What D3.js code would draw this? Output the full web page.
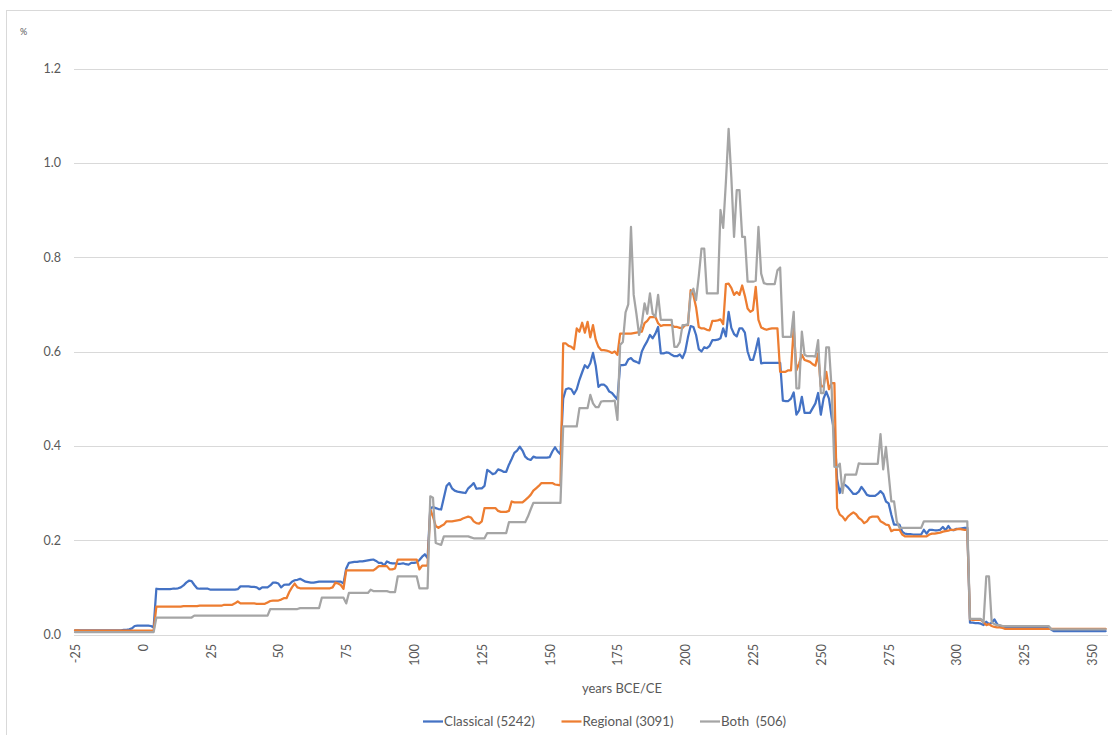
<!DOCTYPE html>
<html>
<head>
<meta charset="utf-8">
<script src="https://cdn.jsdelivr.net/npm/d3@7/dist/d3.min.js"></script>
<style>
  html, body { margin: 0; padding: 0; background: #ffffff; }
  svg { display: block; }
  text { font-family: Lato, "Open Sans", "Liberation Sans", sans-serif; fill: #595959; }
</style>
</head>
<body>
<svg id="chart" width="1112" height="735"></svg>
<script>
// Yearly share (%) of dated objects, years -25 .. 355
const years = d3.range(-25, 356);

const classical = [
  0.009,0.009,0.009,0.009,0.009,0.009,0.009,0.009,0.009,0.009,
  0.009,0.009,0.009,0.009,0.009,0.009,0.009,0.009,0.010,0.010,
  0.011,0.013,0.018,0.019,0.019,0.019,0.019,0.019,0.018,0.015,
  0.097,0.096,0.096,0.096,0.096,0.096,0.097,0.097,0.098,0.100,
  0.104,0.110,0.114,0.113,0.105,0.098,0.097,0.097,0.097,0.097,
  0.095,0.095,0.095,0.095,0.095,0.095,0.095,0.095,0.095,0.095,
  0.096,0.102,0.102,0.102,0.102,0.101,0.101,0.100,0.096,0.100,
  0.100,0.100,0.104,0.110,0.110,0.108,0.100,0.105,0.106,0.106,
  0.112,0.115,0.116,0.118,0.115,0.112,0.111,0.110,0.110,0.111,
  0.112,0.112,0.112,0.112,0.112,0.112,0.112,0.112,0.112,0.108,
  0.140,0.152,0.153,0.154,0.154,0.155,0.155,0.156,0.157,0.158,
  0.159,0.156,0.152,0.152,0.146,0.155,0.152,0.151,0.151,0.150,
  0.150,0.151,0.149,0.148,0.152,0.152,0.153,0.158,0.165,0.170,
  0.162,0.268,0.270,0.268,0.266,0.265,0.290,0.315,0.321,0.310,
  0.305,0.303,0.302,0.301,0.300,0.310,0.315,0.321,0.309,0.310,
  0.310,0.315,0.349,0.345,0.340,0.342,0.350,0.348,0.345,0.345,
  0.360,0.372,0.385,0.390,0.398,0.390,0.377,0.372,0.370,0.377,
  0.375,0.375,0.375,0.375,0.375,0.376,0.388,0.397,0.388,0.382,
  0.500,0.520,0.522,0.520,0.510,0.520,0.540,0.556,0.571,0.565,
  0.575,0.597,0.570,0.525,0.530,0.530,0.525,0.515,0.512,0.505,
  0.498,0.571,0.571,0.572,0.583,0.586,0.580,0.578,0.575,0.600,
  0.612,0.622,0.635,0.628,0.638,0.652,0.596,0.596,0.598,0.597,
  0.593,0.590,0.590,0.594,0.586,0.600,0.630,0.654,0.652,0.635,
  0.605,0.600,0.609,0.607,0.612,0.624,0.624,0.625,0.628,0.649,
  0.632,0.684,0.650,0.637,0.632,0.649,0.649,0.640,0.600,0.582,
  0.582,0.603,0.628,0.575,0.576,0.576,0.576,0.576,0.576,0.576,
  0.576,0.496,0.495,0.495,0.500,0.513,0.466,0.475,0.504,0.470,
  0.470,0.470,0.480,0.490,0.512,0.466,0.500,0.515,0.500,0.460,
  0.430,0.330,0.300,0.317,0.317,0.312,0.305,0.298,0.298,0.303,
  0.313,0.305,0.296,0.294,0.294,0.294,0.298,0.304,0.298,0.282,
  0.278,0.254,0.233,0.233,0.233,0.218,0.214,0.213,0.213,0.212,
  0.212,0.212,0.212,0.222,0.214,0.222,0.222,0.221,0.221,0.222,
  0.228,0.221,0.230,0.222,0.221,0.224,0.224,0.225,0.226,0.226,
  0.025,0.025,0.024,0.024,0.023,0.020,0.027,0.022,0.025,0.032,
  0.022,0.018,0.016,0.016,0.016,0.016,0.016,0.016,0.016,0.016,
  0.016,0.016,0.016,0.016,0.016,0.016,0.016,0.016,0.016,0.016,
  0.010,0.007,0.007,0.007,0.007,0.007,0.007,0.007,0.007,0.007,
  0.007,0.007,0.007,0.007,0.007,0.007,0.007,0.007,0.007,0.007,0.007
];

const regional = [
  0.009,0.009,0.008,0.008,0.008,0.008,0.008,0.008,0.008,0.008,
  0.008,0.008,0.008,0.008,0.008,0.008,0.008,0.008,0.008,0.008,
  0.008,0.008,0.008,0.008,0.008,0.008,0.008,0.008,0.008,0.008,
  0.059,0.059,0.059,0.059,0.059,0.059,0.059,0.059,0.059,0.059,
  0.060,0.060,0.060,0.060,0.060,0.060,0.061,0.061,0.061,0.061,
  0.061,0.061,0.061,0.061,0.061,0.063,0.063,0.063,0.063,0.066,
  0.070,0.066,0.066,0.066,0.066,0.066,0.066,0.065,0.065,0.065,
  0.065,0.068,0.071,0.072,0.072,0.072,0.074,0.077,0.077,0.090,
  0.100,0.108,0.100,0.098,0.098,0.098,0.098,0.098,0.098,0.098,
  0.098,0.098,0.098,0.098,0.098,0.100,0.110,0.108,0.105,0.097,
  0.136,0.136,0.136,0.136,0.136,0.136,0.136,0.136,0.136,0.136,
  0.136,0.140,0.145,0.145,0.145,0.145,0.138,0.138,0.140,0.159,
  0.159,0.159,0.159,0.159,0.159,0.159,0.159,0.138,0.146,0.146,
  0.146,0.265,0.250,0.230,0.226,0.230,0.233,0.240,0.240,0.240,
  0.241,0.242,0.243,0.246,0.248,0.250,0.248,0.240,0.236,0.235,
  0.240,0.268,0.268,0.268,0.268,0.268,0.262,0.260,0.260,0.260,
  0.262,0.282,0.280,0.280,0.280,0.280,0.285,0.290,0.296,0.305,
  0.310,0.315,0.321,0.321,0.321,0.321,0.321,0.318,0.317,0.316,
  0.617,0.617,0.612,0.610,0.605,0.649,0.642,0.661,0.640,0.663,
  0.630,0.656,0.625,0.610,0.603,0.603,0.602,0.600,0.597,0.600,
  0.593,0.638,0.638,0.638,0.638,0.638,0.639,0.640,0.641,0.642,
  0.660,0.665,0.673,0.673,0.673,0.660,0.654,0.656,0.656,0.656,
  0.656,0.652,0.652,0.650,0.650,0.656,0.656,0.730,0.720,0.694,
  0.652,0.649,0.649,0.646,0.645,0.665,0.665,0.666,0.668,0.658,
  0.743,0.744,0.735,0.720,0.726,0.720,0.740,0.718,0.691,0.684,
  0.688,0.737,0.667,0.651,0.648,0.646,0.648,0.649,0.649,0.649,
  0.557,0.557,0.557,0.560,0.560,0.650,0.560,0.575,0.593,0.582,
  0.580,0.578,0.573,0.570,0.596,0.526,0.526,0.557,0.520,0.533,
  0.533,0.268,0.254,0.250,0.242,0.250,0.255,0.259,0.255,0.247,
  0.243,0.236,0.240,0.248,0.250,0.250,0.250,0.240,0.237,0.233,
  0.232,0.219,0.222,0.222,0.222,0.212,0.208,0.208,0.208,0.208,
  0.208,0.208,0.208,0.208,0.208,0.212,0.214,0.214,0.215,0.216,
  0.218,0.219,0.220,0.222,0.222,0.223,0.224,0.223,0.222,0.222,
  0.032,0.031,0.031,0.031,0.031,0.026,0.020,0.022,0.018,0.016,
  0.015,0.015,0.014,0.012,0.012,0.012,0.012,0.012,0.012,0.012,
  0.012,0.012,0.012,0.012,0.012,0.012,0.012,0.012,0.012,0.012,
  0.012,0.012,0.012,0.012,0.012,0.012,0.012,0.012,0.012,0.012,
  0.012,0.012,0.012,0.012,0.012,0.012,0.012,0.012,0.012,0.012,0.012
];

const both = [
  0.005,0.005,0.005,0.005,0.005,0.005,0.005,0.005,0.005,0.005,
  0.005,0.005,0.005,0.005,0.005,0.005,0.005,0.005,0.005,0.005,
  0.005,0.005,0.005,0.005,0.005,0.005,0.005,0.005,0.005,0.005,
  0.036,0.036,0.036,0.036,0.036,0.036,0.036,0.036,0.036,0.036,
  0.036,0.036,0.036,0.036,0.040,0.040,0.040,0.040,0.040,0.040,
  0.040,0.040,0.040,0.040,0.040,0.040,0.040,0.040,0.040,0.040,
  0.040,0.040,0.040,0.040,0.040,0.040,0.040,0.040,0.040,0.040,
  0.040,0.040,0.054,0.054,0.054,0.054,0.054,0.054,0.054,0.054,
  0.054,0.054,0.054,0.056,0.056,0.056,0.056,0.056,0.056,0.056,
  0.056,0.078,0.078,0.078,0.078,0.078,0.078,0.078,0.078,0.078,
  0.066,0.088,0.088,0.088,0.088,0.088,0.088,0.088,0.088,0.095,
  0.092,0.092,0.092,0.092,0.092,0.092,0.090,0.090,0.090,0.123,
  0.123,0.123,0.123,0.123,0.123,0.123,0.123,0.098,0.098,0.098,
  0.098,0.293,0.290,0.194,0.192,0.190,0.208,0.208,0.208,0.208,
  0.208,0.208,0.208,0.208,0.208,0.208,0.206,0.204,0.204,0.204,
  0.204,0.204,0.215,0.215,0.215,0.215,0.215,0.215,0.215,0.215,
  0.238,0.238,0.238,0.238,0.238,0.238,0.238,0.250,0.265,0.279,
  0.279,0.279,0.279,0.279,0.279,0.279,0.279,0.279,0.279,0.279,
  0.441,0.441,0.441,0.441,0.441,0.441,0.480,0.480,0.480,0.480,
  0.508,0.490,0.482,0.482,0.494,0.495,0.495,0.495,0.495,0.496,
  0.455,0.614,0.620,0.683,0.700,0.864,0.720,0.680,0.635,0.660,
  0.702,0.680,0.723,0.680,0.674,0.720,0.667,0.667,0.667,0.667,
  0.667,0.610,0.610,0.620,0.656,0.656,0.658,0.723,0.733,0.709,
  0.760,0.818,0.818,0.723,0.723,0.723,0.723,0.723,0.900,0.862,
  0.960,1.072,0.970,0.843,0.942,0.942,0.843,0.843,0.748,0.748,
  0.748,0.750,0.864,0.765,0.745,0.743,0.743,0.743,0.743,0.772,
  0.778,0.631,0.631,0.631,0.631,0.684,0.522,0.522,0.642,0.593,
  0.590,0.590,0.590,0.589,0.624,0.512,0.512,0.609,0.609,0.520,
  0.356,0.354,0.362,0.300,0.339,0.339,0.339,0.339,0.339,0.363,
  0.362,0.362,0.362,0.362,0.362,0.362,0.362,0.425,0.350,0.398,
  0.340,0.282,0.282,0.240,0.226,0.226,0.226,0.226,0.226,0.226,
  0.226,0.226,0.226,0.240,0.240,0.240,0.240,0.240,0.240,0.240,
  0.240,0.240,0.240,0.240,0.240,0.240,0.240,0.240,0.240,0.240,
  0.033,0.033,0.033,0.033,0.033,0.026,0.123,0.123,0.026,0.022,
  0.020,0.020,0.018,0.018,0.018,0.018,0.018,0.018,0.018,0.018,
  0.018,0.018,0.018,0.018,0.018,0.018,0.018,0.018,0.018,0.018,
  0.011,0.011,0.011,0.011,0.011,0.011,0.011,0.011,0.011,0.011,
  0.011,0.011,0.011,0.011,0.011,0.011,0.011,0.011,0.011,0.011,0.011
];

const seriesNames = ["Classical (5242)", "Regional (3091)", "Both  (506)"];
const seriesColors = ["#4472C4", "#ED7D31", "#A5A5A5"];
const xTickValues = [-25, 0, 25, 50, 75, 100, 125, 150, 175, 200, 225, 250, 275, 300, 325, 350];
const yTickValues = [0, 0.2, 0.4, 0.6, 0.8, 1.0, 1.2];

const svg = d3.select("#chart");

// chart frame
svg.append("rect")
  .attr("x", 6.5).attr("y", 10.5)
  .attr("width", 1130).attr("height", 760)
  .attr("fill", "none").attr("stroke", "#d9d9d9").attr("stroke-width", 1);

const x = d3.scaleLinear().domain([-25, 355]).range([75, 1105.6]);
const y = d3.scaleLinear().domain([0, 1.2]).range([634.5, 68.5]);
const plotLeft = 74, plotRight = 1108;

// horizontal gridlines
const grid = svg.append("g").attr("transform", `translate(${plotLeft},0)`)
  .call(d3.axisLeft(y).tickValues(yTickValues).tickSize(-(plotRight - plotLeft)).tickFormat(""));
grid.select(".domain").remove();
grid.selectAll("line").attr("stroke", "#d9d9d9").attr("stroke-width", 1)
  .attr("shape-rendering", "crispEdges");

// y axis labels
const yAxis = svg.append("g").attr("transform", `translate(${plotLeft},0)`)
  .call(d3.axisLeft(y).tickValues(yTickValues).tickSize(0).tickPadding(13).tickFormat(d3.format(".1f")));
yAxis.select(".domain").remove();
yAxis.selectAll("text").style("font-size", "12.5px").attr("fill", "#595959")
  .style("font-family", "Lato, 'Open Sans', sans-serif");

svg.append("text").attr("x", 20).attr("y", 35).style("font-size", "9px").text("%");

// x axis labels, rotated
const xAxis = svg.append("g").attr("transform", `translate(0,${y(0)})`)
  .call(d3.axisBottom(x).tickValues(xTickValues).tickSize(0).tickFormat(d => String(d)));
xAxis.select(".domain").remove();
xAxis.selectAll("text")
  .attr("text-anchor", "end")
  .attr("transform", "rotate(-90)")
  .attr("x", -9.5).attr("y", 0).attr("dy", "0.36em")
  .style("font-size", "12.5px").attr("fill", "#595959")
  .style("font-family", "Lato, 'Open Sans', sans-serif");

svg.append("text").attr("x", 622).attr("y", 693).attr("text-anchor", "middle")
  .style("font-size", "13px").text("years BCE/CE");

// series lines
const line = d3.line().x((d, i) => x(years[i])).y(d => y(d));
[classical, regional, both].forEach((vals, k) => {
  svg.append("path").datum(vals)
    .attr("d", line)
    .attr("fill", "none")
    .attr("stroke", seriesColors[k])
    .attr("stroke-width", 2.25)
    .attr("stroke-linejoin", "round")
    .attr("stroke-linecap", "round");
});

// legend
const legendX = [423, 561.5, 700];
const legend = svg.append("g");
seriesNames.forEach((name, k) => {
  legend.append("line")
    .attr("x1", legendX[k]).attr("x2", legendX[k] + 20)
    .attr("y1", 721.5).attr("y2", 721.5)
    .attr("stroke", seriesColors[k]).attr("stroke-width", 2.25);
  legend.append("text")
    .attr("x", legendX[k] + 21).attr("y", 726)
    .style("font-size", "13.3px").style("white-space", "pre")
    .attr("xml:space", "preserve")
    .text(name);
});
</script>
</body>
</html>
